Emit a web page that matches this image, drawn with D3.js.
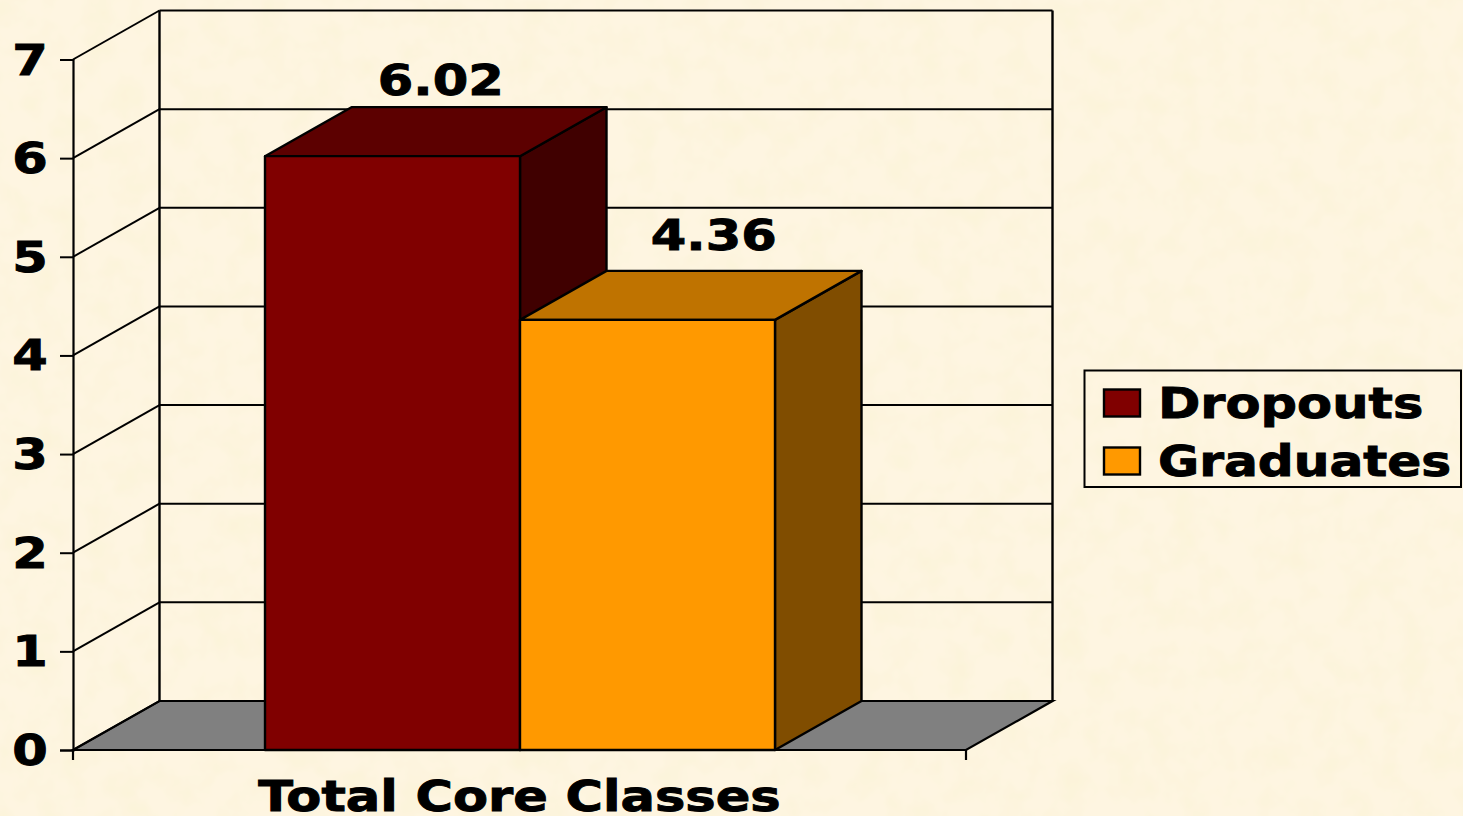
<!DOCTYPE html>
<html>
<head>
<meta charset="utf-8">
<script src="https://cdn.jsdelivr.net/npm/d3@7"></script>
<style>
  html, body { margin: 0; padding: 0; background: #fdf3dc; overflow: hidden; }
  text { font-family: "DejaVu Sans", Verdana, sans-serif; font-weight: bold; fill: #000; stroke: #000; stroke-width: 0.9px; }
</style>
</head>
<body>
<div id="chart"></div>
<script>
// data
const categories = ["Total Core Classes"];
const seriesNames = ["Dropouts", "Graduates"];
const dropouts = [6.02];
const graduates = [4.36];
const seriesValues = [dropouts, graduates];
const yTicks = [0, 1, 2, 3, 4, 5, 6, 7];

const colors = ["#800000", "#ff9900"];
const topColors = ["#5c0000", "#bf7300"];
const sideColors = ["#400000", "#804d00"];

const width = 1463, height = 816;
const depthX = 86.5, depthY = -49;   // 3d offset from front to back wall
const fontSize = 42;
const textStretch = 1.215;           // the original type is much wider than DejaVu
const legendStretch = [1.215, 1.195];

// value labels were placed by hand in the original, not centered over the bars
const labelShift = [[5, -12], [23, -20.5]];

const svg = d3.select("#chart").append("svg")
    .attr("width", width)
    .attr("height", height)
    .style("display", "block");

// widen text without changing its height
function stretch(sel, factor) {
    sel.each(function() {
        const len = this.getComputedTextLength();
        d3.select(this)
            .attr("textLength", len * (factor || textStretch))
            .attr("lengthAdjust", "spacingAndGlyphs");
    });
}

// mottled paper texture
const filter = svg.append("defs").append("filter")
    .attr("id", "paper")
    .attr("x", 0).attr("y", 0).attr("width", "100%").attr("height", "100%");
filter.append("feTurbulence")
    .attr("type", "fractalNoise")
    .attr("baseFrequency", 0.035)
    .attr("numOctaves", 3)
    .attr("seed", 4);
filter.append("feColorMatrix")
    .attr("type", "matrix")
    .attr("values", "0 0 0 0 0.97  0 0 0 0 0.90  0 0 0 0 0.70  2.2 0 0 0 -0.85");

svg.append("rect").attr("width", width).attr("height", height).attr("fill", "#fef5e1");
svg.append("rect").attr("width", width).attr("height", height).attr("filter", "url(#paper)");

const y = d3.scaleLinear().domain([0, 7]).range([750, 59.5]);
const x0 = d3.scaleBand().domain(categories).range([73, 966]);
const groupPad = 192;
const x1 = d3.scaleBand().domain(seriesNames)
    .range([x0(categories[0]) + groupPad, x0(categories[0]) + x0.bandwidth() - groupPad + 1]);

const left = x0.range()[0], right = x0.range()[1];

// floor
svg.append("path")
    .attr("d", d3.line()([
        [left, y(0)], [right, y(0)],
        [right + depthX, y(0) + depthY], [left + depthX, y(0) + depthY]
    ]) + "Z")
    .attr("fill", "#808080")
    .attr("stroke", "#000")
    .attr("stroke-width", 2.2);

// back wall and its gridlines
svg.append("g").selectAll("line")
    .data(yTicks)
    .enter()
    .append("line")
    .attr("x1", left + depthX)
    .attr("x2", right + depthX)
    .attr("y1", d => y(d) + depthY)
    .attr("y2", d => y(d) + depthY)
    .attr("stroke", "#000")
    .attr("stroke-width", 2);

// side wall lines
svg.append("g").selectAll("line")
    .data(yTicks)
    .enter()
    .append("line")
    .attr("x1", left)
    .attr("x2", left + depthX)
    .attr("y1", d => y(d))
    .attr("y2", d => y(d) + depthY)
    .attr("stroke", "#000")
    .attr("stroke-width", 2);

// wall verticals
[left + depthX, right + depthX].forEach(px => {
    svg.append("line")
        .attr("x1", px).attr("x2", px)
        .attr("y1", y(7) + depthY).attr("y2", y(0) + depthY)
        .attr("stroke", "#000")
        .attr("stroke-width", 2.4);
});

// y axis
const yAxis = d3.axisLeft(y).tickValues(yTicks).tickSize(13).tickPadding(0).tickFormat(d3.format("d"));
const yG = svg.append("g").attr("transform", `translate(${left},0)`).call(yAxis);
yG.selectAll("path.domain").attr("stroke", "#000").attr("stroke-width", 2.2);
yG.selectAll(".tick line").attr("stroke", "#000").attr("stroke-width", 2);
yG.selectAll("text")
    .attr("x", -43)
    .attr("dy", "0.345em")
    .attr("text-anchor", "middle")
    .style("font-family", "\"DejaVu Sans\", sans-serif")
    .style("font-size", fontSize + "px")
    .call(stretch);

// x axis line and end ticks
svg.append("line")
    .attr("x1", left).attr("x2", right)
    .attr("y1", y(0)).attr("y2", y(0))
    .attr("stroke", "#000").attr("stroke-width", 2.2);
[left, right].forEach(px => {
    svg.append("line")
        .attr("x1", px).attr("x2", px)
        .attr("y1", y(0)).attr("y2", y(0) + 10)
        .attr("stroke", "#000").attr("stroke-width", 2.2);
});

// bars, left one first so the right one overlaps its side face
seriesNames.forEach((name, i) => {
    const v = seriesValues[i][0];
    const xa = x1(name), xb = xa + x1.bandwidth();
    const yt = y(v), yb = y(0);
    const g = svg.append("g").attr("stroke", "#000").attr("stroke-width", 2.4).attr("stroke-linejoin", "round");

    // side face
    g.append("path")
        .attr("d", d3.line()([[xb, yt], [xb + depthX, yt + depthY], [xb + depthX, yb + depthY], [xb, yb]]) + "Z")
        .attr("fill", sideColors[i]);
    // top face
    g.append("path")
        .attr("d", d3.line()([[xa, yt], [xa + depthX, yt + depthY], [xb + depthX, yt + depthY], [xb, yt]]) + "Z")
        .attr("fill", topColors[i]);
    // front face
    g.append("rect")
        .attr("x", xa).attr("y", yt)
        .attr("width", xb - xa).attr("height", yb - yt)
        .attr("fill", colors[i]);

    // value label
    svg.append("text")
        .attr("x", xa + (xb - xa) / 2 + depthX / 2 + labelShift[i][0])
        .attr("y", yt + depthY + labelShift[i][1])
        .attr("text-anchor", "middle")
        .attr("font-size", fontSize)
        .text(v.toFixed(2))
        .call(stretch);
});

// category label
svg.append("text")
    .attr("x", x0(categories[0]) + x0.bandwidth() / 2)
    .attr("y", 811)
    .attr("text-anchor", "middle")
    .attr("font-size", fontSize)
    .text(categories[0])
    .call(stretch);

// legend
const legend = svg.append("g");
legend.append("rect")
    .attr("x", 1084.5).attr("y", 370.5)
    .attr("width", 376.5).attr("height", 116.5)
    .attr("fill", "none")
    .attr("stroke", "#000")
    .attr("stroke-width", 2);
seriesNames.forEach((name, i) => {
    const ly = 389.5 + i * 58;
    legend.append("rect")
        .attr("x", 1104).attr("y", ly)
        .attr("width", 36).attr("height", 27)
        .attr("fill", colors[i])
        .attr("stroke", "#000")
        .attr("stroke-width", 2.4);
    legend.append("text")
        .attr("x", 1158)
        .attr("y", ly + 28)
        .attr("font-size", fontSize)
        .text(name)
        .call(stretch, legendStretch[i]);
});
</script>
</body>
</html>
